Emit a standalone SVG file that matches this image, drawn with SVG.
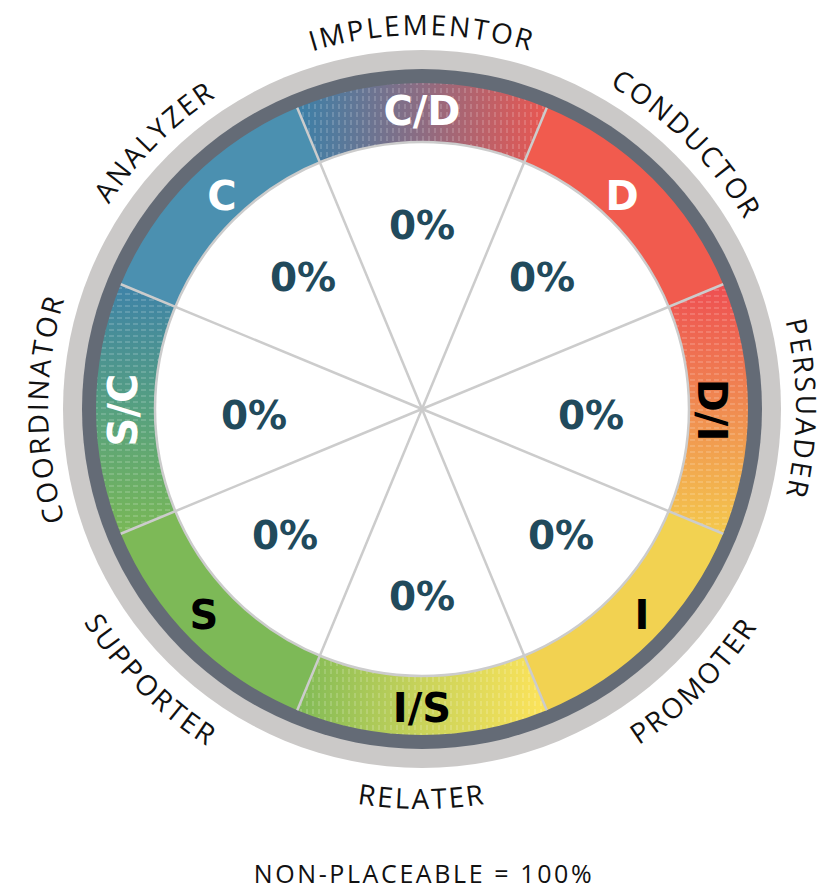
<svg xmlns="http://www.w3.org/2000/svg" xmlns:xlink="http://www.w3.org/1999/xlink" width="831" height="891" viewBox="0 0 831 891">
<style>
.outer{font-family:"Open Sans","Liberation Sans",sans-serif;font-size:28px;letter-spacing:2.4px;fill:#111;}
.foot{font-family:"Open Sans","Liberation Sans",sans-serif;font-size:25px;letter-spacing:2.6px;fill:#111;}
.seg{font-family:"DejaVu Sans","Liberation Sans",sans-serif;font-weight:bold;font-size:40px;text-anchor:middle;}
.pct{font-family:"DejaVu Sans","Liberation Sans",sans-serif;font-weight:bold;font-size:39px;text-anchor:middle;fill:#214a5c;}
.w{fill:#ffffff;}
.b{fill:#000000;}
.div{stroke:#cccccc;stroke-width:2.5;fill:none;}
</style>
<defs>
<path id="sector" d="M297.25,107.82 A326,326 0 0 1 546.75,107.82 L524.18,162.32 A267,267 0 0 0 319.82,162.32 Z"/>
<path id="arcTop" d="M135.5,168.6 A374,374 0 0 1 708.5,168.6" fill="none"/>
<path id="arcBot" d="M115.6,666.1 A400,400 0 0 0 728.4,666.1" fill="none"/>
<linearGradient id="gCD" x1="0" y1="0" x2="1" y2="0">
<stop offset="0" stop-color="#3b80a8"/><stop offset="0.5" stop-color="#8d6c82"/><stop offset="1" stop-color="#ea5650"/>
</linearGradient>
<linearGradient id="gDI" x1="0" y1="0" x2="1" y2="0">
<stop offset="0" stop-color="#ee4e52"/><stop offset="0.5" stop-color="#f08c51"/><stop offset="1" stop-color="#f4c94d"/>
</linearGradient>
<linearGradient id="gIS" x1="0" y1="0" x2="1" y2="0">
<stop offset="0" stop-color="#fde35a"/><stop offset="0.5" stop-color="#c9d35a"/><stop offset="1" stop-color="#7fba56"/>
</linearGradient>
<linearGradient id="gSC" x1="0" y1="0" x2="1" y2="0">
<stop offset="0" stop-color="#79b856"/><stop offset="0.5" stop-color="#56a080"/><stop offset="1" stop-color="#3e82a8"/>
</linearGradient>
<pattern id="hatch" patternUnits="userSpaceOnUse" width="6" height="8">
<line x1="3" y1="0" x2="3" y2="5" stroke="#ffffff" stroke-opacity="0.4" stroke-width="0.8"/>
</pattern>
</defs>

<g id="background">
<circle cx="422" cy="409" r="359" fill="#cbc9c8"/>
<circle cx="422" cy="409" r="340" fill="#646b76"/>
<circle cx="422" cy="409" r="267" fill="#ffffff"/>
</g>

<g id="node-CD">
<use href="#sector" fill="url(#gCD)"/>
<use href="#sector" fill="url(#hatch)"/>
<text class="seg w" x="422" y="125">C/D</text>
<text class="pct" x="422" y="239">0%</text>
<text class="outer"><textPath href="#arcTop" startOffset="50%" text-anchor="middle">IMPLEMENTOR</textPath></text>
</g>

<g id="node-D">
<use href="#sector" fill="#f15b4e" transform="rotate(45 422 409)"/>
<text class="seg w" x="622" y="210">D</text>
<text class="pct" x="542" y="291">0%</text>
<text class="outer" transform="rotate(45 422 409)"><textPath href="#arcTop" startOffset="50%" text-anchor="middle">CONDUCTOR</textPath></text>
</g>

<g id="node-DI">
<g transform="rotate(90 422 409)">
<use href="#sector" fill="url(#gDI)"/>
<use href="#sector" fill="url(#hatch)"/>
</g>
<text class="seg b" transform="translate(712 410) rotate(90)" x="0" y="14">D/I</text>
<text class="pct" x="591" y="429">0%</text>
<text class="outer" transform="rotate(90 422 409)"><textPath href="#arcTop" startOffset="50%" text-anchor="middle">PERSUADER</textPath></text>
</g>

<g id="node-I">
<use href="#sector" fill="#f2d251" transform="rotate(135 422 409)"/>
<text class="seg b" x="642" y="629">I</text>
<text class="pct" x="561" y="549">0%</text>
<text class="outer" transform="rotate(-45 422 409)"><textPath href="#arcBot" startOffset="50%" text-anchor="middle">PROMOTER</textPath></text>
</g>

<g id="node-IS">
<g transform="rotate(180 422 409)">
<use href="#sector" fill="url(#gIS)"/>
<use href="#sector" fill="url(#hatch)"/>
</g>
<text class="seg b" x="422" y="722">I/S</text>
<text class="pct" x="422" y="610">0%</text>
<text class="outer"><textPath href="#arcBot" startOffset="50%" text-anchor="middle">RELATER</textPath></text>
</g>

<g id="node-S">
<use href="#sector" fill="#7db957" transform="rotate(225 422 409)"/>
<text class="seg b" x="204" y="629">S</text>
<text class="pct" x="285" y="549">0%</text>
<text class="outer" transform="rotate(45 422 409)"><textPath href="#arcBot" startOffset="50%" text-anchor="middle">SUPPORTER</textPath></text>
</g>

<g id="node-SC">
<g transform="rotate(270 422 409)">
<use href="#sector" fill="url(#gSC)"/>
<use href="#sector" fill="url(#hatch)"/>
</g>
<text class="seg w" transform="translate(123 410) rotate(-90)" x="0" y="14">S/C</text>
<text class="pct" x="254" y="429">0%</text>
<text class="outer" transform="rotate(-90 422 409)"><textPath href="#arcTop" startOffset="50%" text-anchor="middle">COORDINATOR</textPath></text>
</g>

<g id="node-C">
<use href="#sector" fill="#4b90b0" transform="rotate(315 422 409)"/>
<text class="seg w" x="222" y="210">C</text>
<text class="pct" x="303" y="291">0%</text>
<text class="outer" transform="rotate(-45 422 409)"><textPath href="#arcTop" startOffset="50%" text-anchor="middle">ANALYZER</textPath></text>
</g>

<g id="connectors">
<circle cx="422" cy="409" r="267" class="div"/>
<line class="div" x1="422" y1="409" x2="546.75" y2="107.82"/>
<line class="div" x1="422" y1="409" x2="723.19" y2="284.25"/>
<line class="div" x1="422" y1="409" x2="723.19" y2="533.75"/>
<line class="div" x1="422" y1="409" x2="546.75" y2="710.19"/>
<line class="div" x1="422" y1="409" x2="297.25" y2="710.19"/>
<line class="div" x1="422" y1="409" x2="120.81" y2="533.75"/>
<line class="div" x1="422" y1="409" x2="120.81" y2="284.25"/>
<line class="div" x1="422" y1="409" x2="297.25" y2="107.82"/>
</g>

<text class="foot" x="424" y="883" text-anchor="middle">NON-PLACEABLE = 100%</text>
</svg>
